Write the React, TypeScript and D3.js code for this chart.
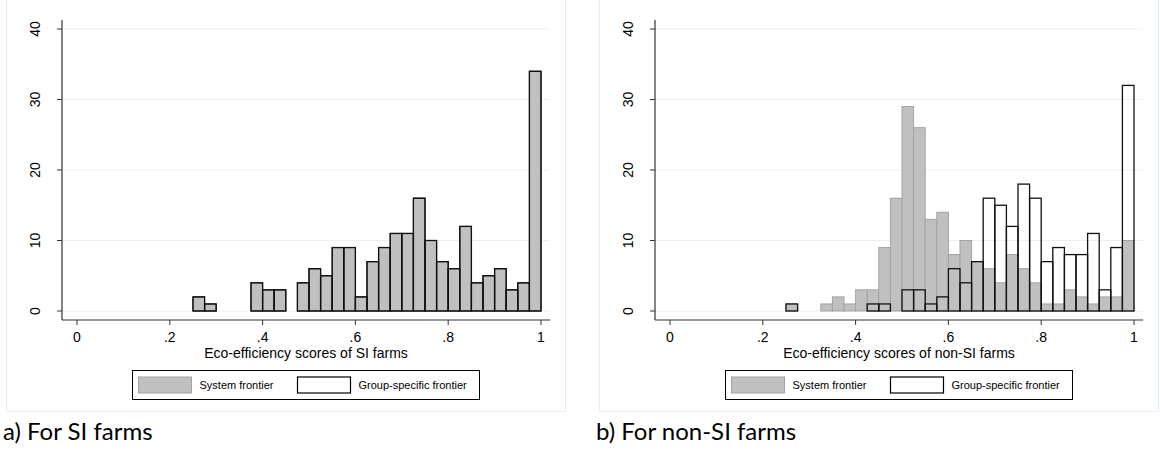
import React from 'react';
import * as d3 from 'd3';

// Histogram bins: 40 bins of width 0.025 on [0, 1]; value i = count in bin [i*0.025, (i+1)*0.025)
const binWidth = 0.025;

// a) SI farms
const siSystem = [
  0, 0, 0, 0, 0, 0, 0, 0, 0, 0,
  2, 1, 0, 0, 0, 4, 3, 3, 0, 4,
  6, 5, 9, 9, 2, 7, 9, 11, 11, 16,
  10, 7, 6, 12, 4, 5, 6, 3, 4, 34,
];
const siGroup = [
  0, 0, 0, 0, 0, 0, 0, 0, 0, 0,
  2, 1, 0, 0, 0, 4, 3, 3, 0, 4,
  6, 5, 9, 9, 2, 7, 9, 11, 11, 16,
  10, 7, 6, 12, 4, 5, 6, 3, 4, 34,
];

// b) non-SI farms
const nonSystem = [
  0, 0, 0, 0, 0, 0, 0, 0, 0, 0,
  1, 0, 0, 1, 2, 1, 3, 3, 9, 16,
  29, 26, 13, 14, 8, 10, 7, 6, 4, 8,
  6, 4, 1, 1, 3, 2, 1, 2, 2, 10,
];
const nonGroup = [
  0, 0, 0, 0, 0, 0, 0, 0, 0, 0,
  1, 0, 0, 0, 0, 0, 0, 1, 1, 0,
  3, 3, 1, 2, 6, 4, 7, 16, 15, 12,
  18, 16, 7, 9, 8, 8, 11, 3, 9, 32,
];

const xTicks = [0, 0.2, 0.4, 0.6, 0.8, 1];
const xTickLabels = ['0', '.2', '.4', '.6', '.8', '1'];
const yTicks = [0, 10, 20, 30, 40];
const yTickLabels = ['0', '10', '20', '30', '40'];
const legendLabels = ['System frontier', 'Group-specific frontier'];
const axisTitles = ['Eco-efficiency scores of SI farms', 'Eco-efficiency scores of non-SI farms'];
const captions = ['a) For SI farms', 'b) For non-SI farms'];

const FONT = '"Liberation Sans", Arial, sans-serif';
const GRAY_FILL = '#c0c0c0';
const GRAY_EDGE = '#a3a3a3';
const GRID = '#e8f0f1';
const FRAME = '#e6eef0';
const AXIS = '#333333';

type PanelProps = {
  ox: number;
  system: number[];
  group: number[];
  title: string;
  caption: string;
  systemEdge: string;
};

function Panel({ ox, system, group, title, caption, systemEdge }: PanelProps) {
  const x = d3.scaleLinear().domain([0, 1]).range([ox + 77, ox + 541]);
  const y = d3.scaleLinear().domain([0, 40]).range([311, 29]);
  const axisLeft = ox + 62;
  const plotRight = ox + 550;
  const axisY = 320;
  const cx = (axisLeft + plotRight) / 2;

  const bars = (vals: number[]) =>
    vals
      .map((v, i) => ({ v, x0: x(i * binWidth), x1: x((i + 1) * binWidth) }))
      .filter((d) => d.v > 0);

  const lx = ox + 132.5;
  return (
    <g>
      <rect x={ox + 6.5} y={-2} width={559} height={413.5} fill="white" stroke={FRAME} strokeWidth={1} />
      {yTicks.map((t) => (
        <line key={'g' + t} x1={axisLeft} x2={plotRight} y1={y(t)} y2={y(t)} stroke={GRID} strokeWidth={1.2} />
      ))}
      {bars(system).map((d, i) => (
        <rect key={'s' + i} x={d.x0} y={y(d.v)} width={d.x1 - d.x0} height={y(0) - y(d.v)}
          fill={GRAY_FILL} stroke={systemEdge} strokeWidth={1} />
      ))}
      {bars(group).map((d, i) => (
        <rect key={'q' + i} x={d.x0} y={y(d.v)} width={d.x1 - d.x0} height={y(0) - y(d.v)}
          fill="none" stroke="#111" strokeWidth={1.3} />
      ))}
      <line x1={axisLeft} x2={axisLeft} y1={20} y2={axisY} stroke={AXIS} strokeWidth={1.2} />
      <line x1={axisLeft} x2={plotRight} y1={axisY} y2={axisY} stroke={AXIS} strokeWidth={1.2} />
      {yTicks.map((t, i) => (
        <g key={'yt' + t}>
          <line x1={axisLeft - 5} x2={axisLeft} y1={y(t)} y2={y(t)} stroke={AXIS} strokeWidth={1} />
          <text transform={`translate(${ox + 39.5},${y(t)}) rotate(-90)`} textAnchor="middle"
            fontFamily={FONT} fontSize={14} fill="#000">{yTickLabels[i]}</text>
        </g>
      ))}
      {xTicks.map((t, i) => (
        <g key={'xt' + t}>
          <line x1={x(t)} x2={x(t)} y1={axisY} y2={axisY + 5} stroke={AXIS} strokeWidth={1} />
          <text x={x(t)} y={342} textAnchor="middle" fontFamily={FONT} fontSize={14} fill="#000">
            {xTickLabels[i]}
          </text>
        </g>
      ))}
      <text x={cx} y={358} textAnchor="middle" fontFamily={FONT} fontSize={14} fill="#000">{title}</text>
      <rect x={lx} y={370.5} width={347} height={29} fill="white" stroke="#000" strokeWidth={1} />
      <rect x={lx + 6} y={377} width={53} height={16} fill={GRAY_FILL} stroke={GRAY_EDGE} strokeWidth={1} />
      <text x={lx + 67} y={389} fontFamily={FONT} fontSize={11} fill="#000">{legendLabels[0]}</text>
      <rect x={lx + 165} y={377} width={53} height={16} fill="white" stroke="#000" strokeWidth={1.2} />
      <text x={lx + 226} y={389} fontFamily={FONT} fontSize={11} fill="#000">{legendLabels[1]}</text>
      <text x={ox + 3} y={440} fontFamily='Lato, "Open Sans", sans-serif' fontSize={24} fill="#000">{caption}</text>
    </g>
  );
}

export default function App() {
  return (
    <svg width={1160} height={451} style={{ position: 'absolute', left: 0, top: 0, background: 'white' }}>
      <rect width={1160} height={451} fill="white" />
      <Panel ox={0} system={siSystem} group={siGroup} title={axisTitles[0]} caption={captions[0]} systemEdge="#111" />
      <Panel ox={593} system={nonSystem} group={nonGroup} title={axisTitles[1]} caption={captions[1]} systemEdge={GRAY_EDGE} />
    </svg>
  );
}
